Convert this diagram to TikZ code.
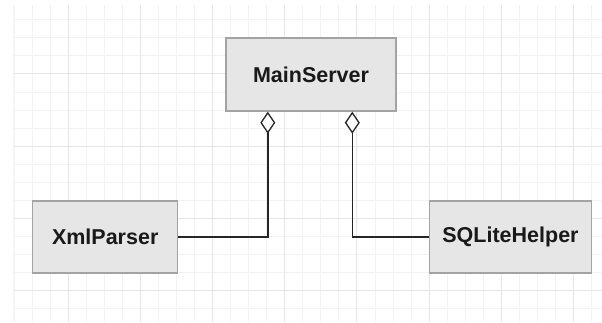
\documentclass[tikz,border=0pt]{standalone}
\usepackage{fontspec}
\setmainfont{Liberation Sans}
\usetikzlibrary{arrows.meta}
\definecolor{boxfill}{HTML}{E6E6E6}
\definecolor{boxline}{HTML}{A3A3A3}
\definecolor{gridminor}{HTML}{F3F3F3}
\definecolor{gridmajor}{HTML}{E6E6E6}
\tikzset{
  classbox/.style={draw=boxline, fill=boxfill, line width=1.4pt, rectangle,
    inner sep=0pt, font=\fontsize{21.5}{25}\selectfont\bfseries, text=black!90},
  aggr/.style={draw=black!85, line width=1.5pt,
    -{Diamond[fill=white, length=22pt, width=15pt, line width=1.3pt]}},
}
\begin{document}
\begin{tikzpicture}[x=1pt,y=1pt]
\useasboundingbox (0,0) rectangle (602,322);
\fill[white] (0,0) rectangle (602,322);
% grid
\begin{scope}
\clip (13.3,0) rectangle (602,317);
\foreach \i in {0,...,33} {
  \draw[gridminor, line width=1pt] ({14.2+18.04*\i},0) -- ({14.2+18.04*\i},317);
}
\foreach \j in {-4,...,13} {
  \draw[gridminor, line width=1pt] (0,{248-18.05*\j}) -- (602,{248-18.05*\j});
}
\foreach \i in {0,...,7} {
  \draw[gridmajor, line width=1pt] ({68.3+72.17*\i},0) -- ({68.3+72.17*\i},317);
}
\foreach \j in {0,...,3} {
  \draw[gridmajor, line width=1pt] (0,{248-72.2*\j}) -- (602,{248-72.2*\j});
}
\draw[gridminor, line width=1pt] (13.8,0) -- (13.8,317);
\end{scope}
% classes
\node[classbox, minimum width=170pt, minimum height=73pt] (ms) at (311,247.5) {MainServer};
\node[classbox, minimum width=145pt, minimum height=72pt] (xml) at (105.2,85.1) {XmlParser};
\node[classbox, minimum width=162pt, minimum height=72pt] (sql) at (510.5,85.1) {SQLiteHelper};
% aggregation connectors
\path (ms.south west) ++(42.5,0) coordinate (pl);
\path (ms.south west) ++(127,0) coordinate (pr);
\draw[aggr] (xml.east) -| (pl);
\draw[aggr] (sql.west) -| (pr);
\end{tikzpicture}
\end{document}
